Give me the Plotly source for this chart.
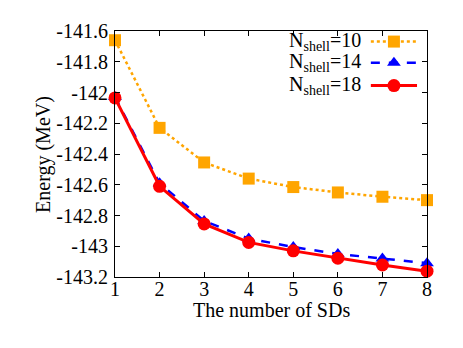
import plotly.graph_objects as go

n_sds = [1, 2, 3, 4, 5, 6, 7, 8]
e_shell10 = [-141.66, -142.23, -142.455, -142.56, -142.615, -142.65, -142.678, -142.70]
e_shell14 = [-142.03, -142.59, -142.835, -142.95, -143.005, -143.05, -143.08, -143.11]
e_shell18 = [-142.035, -142.61, -142.855, -142.975, -143.03, -143.078, -143.122, -143.162]
series_names = ["N<sub>shell</sub>=10", "N<sub>shell</sub>=14", "N<sub>shell</sub>=18"]
y_ticks = [-143.2, -143.0, -142.8, -142.6, -142.4, -142.2, -142.0, -141.8, -141.6]
y_ticklabels = ["-143.2", "-143", "-142.8", "-142.6", "-142.4", "-142.2", "-142", "-141.8", "-141.6"]
x_ticks = [1, 2, 3, 4, 5, 6, 7, 8]
x_title = "The number of SDs"
y_title = "Energy (MeV)"

FONT = "Liberation Serif"
styles = [
    dict(color="#FFA500", dash="dot", width=2.5, symbol="square", size=12),
    dict(color="#0000FF", dash="dash", width=2.5, symbol="triangle-up", size=12),
    dict(color="#FF0000", dash="solid", width=3, symbol="circle", size=13),
]
data = [e_shell10, e_shell14, e_shell18]

fig = go.Figure()
for name, ys, st in zip(series_names, data, styles):
    fig.add_trace(go.Scatter(
        x=n_sds, y=ys, mode="lines+markers", name=name,
        line=dict(color=st["color"], dash=st["dash"], width=st["width"]),
        marker=dict(symbol=st["symbol"], size=st["size"], color=st["color"]),
        cliponaxis=False, showlegend=False,
    ))

# custom legend (text on the left, sample on the right) drawn on a hidden overlay axis
leg_y = [0.957, 0.871, 0.778]
for name, st, ly in zip(series_names, styles, leg_y):
    fig.add_trace(go.Scatter(
        x=[0.82, 0.968], y=[ly, ly], mode="lines", xaxis="x2", yaxis="y2",
        line=dict(color=st["color"], dash=st["dash"], width=st["width"]),
        showlegend=False, hoverinfo="skip",
    ))
    fig.add_trace(go.Scatter(
        x=[0.894], y=[ly], mode="markers", xaxis="x2", yaxis="y2",
        marker=dict(symbol=st["symbol"], size=st["size"], color=st["color"]),
        showlegend=False, hoverinfo="skip",
    ))
    fig.add_annotation(
        xref="paper", yref="paper", x=0.795, y=ly, text=name, showarrow=False,
        xanchor="right", yanchor="middle", font=dict(family=FONT, size=20, color="black"),
    )

# axis titles as annotations
fig.add_annotation(
    xref="paper", yref="paper", x=0.5, y=-0.133, text=x_title, showarrow=False,
    xanchor="center", yanchor="middle", font=dict(family=FONT, size=20, color="black"),
)
fig.add_annotation(
    xref="paper", yref="paper", x=-0.231, y=0.5, text=y_title, showarrow=False,
    textangle=-90, xanchor="center", yanchor="middle",
    font=dict(family=FONT, size=20, color="black"),
)

axis_common = dict(
    showgrid=False, zeroline=False, showline=True, linecolor="black", linewidth=1,
    mirror="ticks", ticks="inside", ticklen=5, tickcolor="black",
    tickfont=dict(family=FONT, size=20, color="black"),
)
fig.update_layout(
    width=463, height=348,
    margin=dict(l=107, r=44, t=14, b=79),
    paper_bgcolor="white", plot_bgcolor="white",
    font=dict(family=FONT, color="black"),
    xaxis=dict(range=[1, 8], tickvals=x_ticks, ticklabelstandoff=-6, **axis_common),
    yaxis=dict(range=[-143.2, -141.6], tickvals=y_ticks, ticktext=y_ticklabels,
               ticklabelstandoff=2, **axis_common),
    xaxis2=dict(overlaying="x", range=[0, 1], visible=False),
    yaxis2=dict(overlaying="y", range=[0, 1], visible=False),
)

fig.write_html("out.html")
